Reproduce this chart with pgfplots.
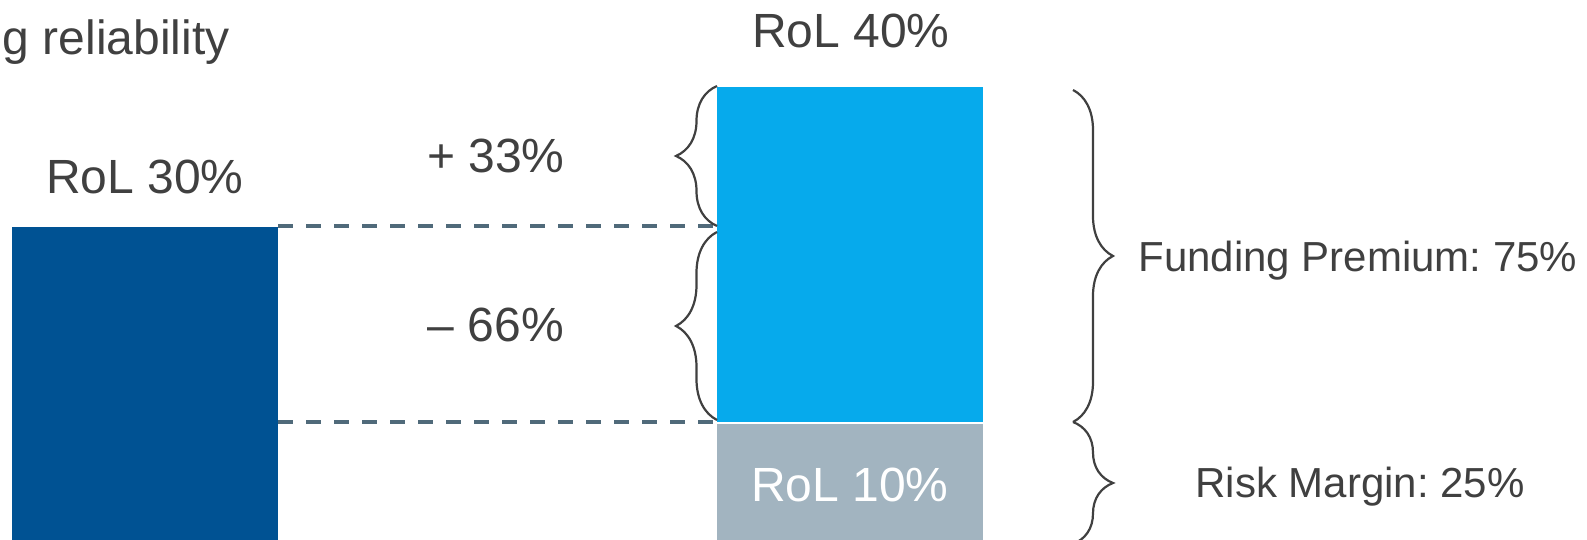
\documentclass[border=0pt]{standalone}
\usepackage{pgfplots}
\pgfplotsset{compat=1.18}
\usepackage{fontspec}
\setmainfont{Liberation Sans}
\usetikzlibrary{decorations.pathreplacing}
\definecolor{darkblue}{RGB}{0,82,147}
\definecolor{lightblue}{RGB}{6,170,236}
\definecolor{greybar}{RGB}{162,180,192}
\definecolor{dashc}{RGB}{80,106,122}
\definecolor{txt}{RGB}{64,64,64}
\frenchspacing
\begin{document}
\begin{tikzpicture}
\begin{axis}[
  width=793.5pt, height=270pt, scale only axis,
  xmin=0, xmax=1587, ymin=0, ymax=540,
  hide axis, clip=true,
]
% bars
\addplot[ybar, bar width=266, bar shift=0pt, fill=darkblue, draw=none] coordinates {(145,313)};
\addplot[ybar, bar width=266, bar shift=0pt, fill=lightblue, draw=none] coordinates {(850,453)};
\addplot[ybar, bar width=266, bar shift=0pt, fill=greybar, draw=none] coordinates {(850,116)};
\addplot[white, line width=1pt] coordinates {(717,116.5) (983,116.5)};
% dashed connectors
\addplot[dashc, line width=1.7pt, dash pattern=on 7.5pt off 6.5pt] coordinates {(278,314) (717,314)};
\addplot[dashc, line width=1.7pt, dash pattern=on 7.5pt off 6.5pt] coordinates {(278,118) (717,118)};
% braces
\draw[txt, line width=1.1pt, decorate, decoration={brace, amplitude=20.5pt}] (axis cs:717,314) -- (axis cs:717,454);
\draw[txt, line width=1.1pt, decorate, decoration={brace, amplitude=20.5pt}] (axis cs:717,120) -- (axis cs:717,308);
\draw[txt, line width=1.1pt, decorate, decoration={brace, amplitude=20pt}] (axis cs:1073,450) -- (axis cs:1073,118);
\draw[txt, line width=1.1pt, decorate, decoration={brace, amplitude=20pt}] (axis cs:1073,118) -- (axis cs:1073,-4);
% labels
\begin{scope}[every node/.style={inner sep=0pt, text=txt}]
\node[anchor=base east, font=\fontsize{24}{28}\selectfont] at (axis cs:230,485) {Funding reliability};
\node[anchor=base, font=\fontsize{24}{28}\selectfont] at (axis cs:145,346) {RoL 30\%};
\node[anchor=base, font=\fontsize{24}{28}\selectfont] at (axis cs:851,492) {RoL 40\%};
\node[anchor=base, font=\fontsize{24}{28}\selectfont] at (axis cs:496,367) {+ 33\%};
\node[anchor=base, font=\fontsize{24}{28}\selectfont] at (axis cs:496,198) {– 66\%};
\node[anchor=base, font=\fontsize{24}{28}\selectfont, text=white] at (axis cs:850,38) {RoL 10\%};
\node[anchor=base west, font=\fontsize{21}{25}\selectfont] at (axis cs:1138,268) {Funding Premium: 75\%};
\node[anchor=base west, font=\fontsize{21}{25}\selectfont] at (axis cs:1195,42) {Risk Margin: 25\%};
\end{scope}
\end{axis}
\pgfresetboundingbox
\useasboundingbox (current axis.south west) rectangle (current axis.north east);
\end{tikzpicture}
\end{document}
